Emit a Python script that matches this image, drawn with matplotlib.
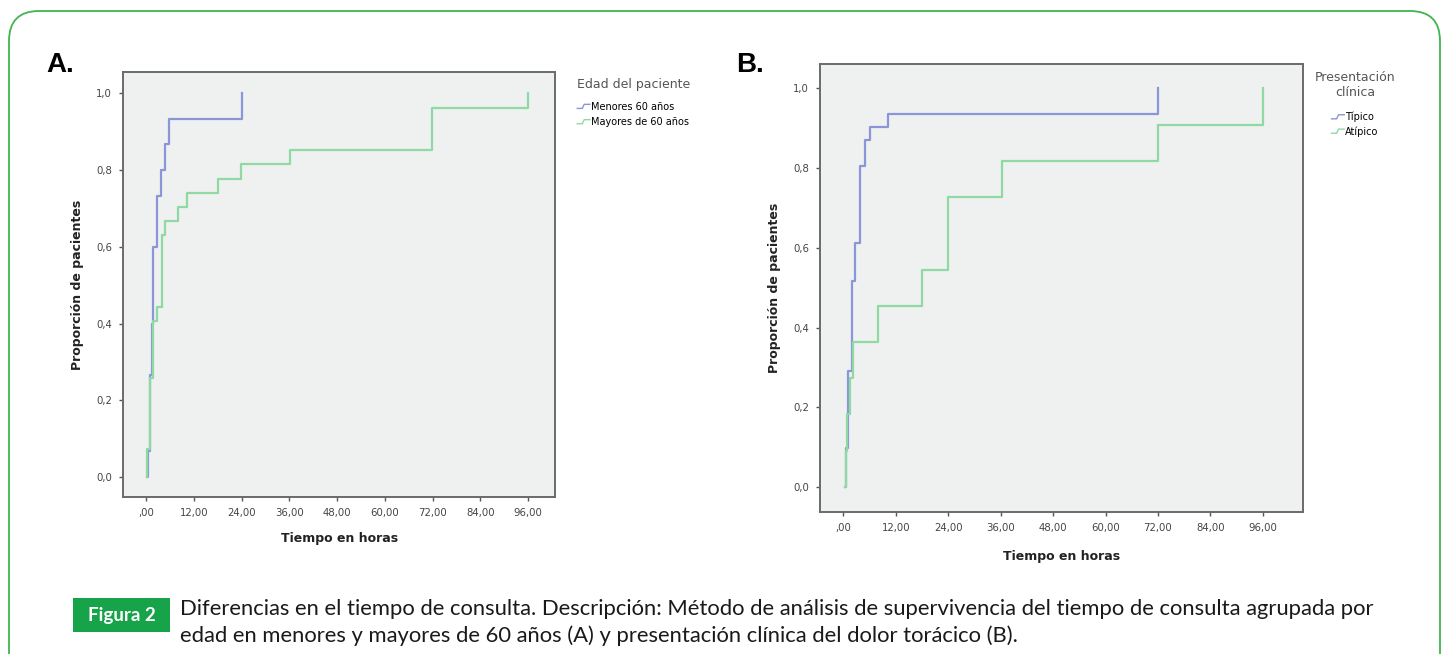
import matplotlib
matplotlib.use('Agg')
import matplotlib.pyplot as plt
from matplotlib.lines import Line2D
from matplotlib.legend_handler import HandlerBase
from matplotlib.patches import FancyBboxPatch, Rectangle

# panel A: edad del paciente (tiempo en horas, proporcion acumulada)
a_menores_t = [0.2, 0.6, 1.0, 1.4, 1.8, 2.7, 3.7, 4.8, 5.9, 24.0]
a_menores_p = [0.0, 0.067, 0.267, 0.40, 0.60, 0.733, 0.80, 0.867, 0.933, 1.0]
a_mayores_t = [0.2, 0.3, 1.0, 1.8, 2.7, 3.9, 4.8, 8.1, 10.2, 18.2, 23.8, 36.2, 71.8, 96.0]
a_mayores_p = [0.0, 0.074, 0.259, 0.407, 0.444, 0.630, 0.667, 0.704, 0.741, 0.778,
               0.815, 0.852, 0.963, 1.0]

# panel B: presentacion clinica
b_tipico_t = [0.4, 0.6, 1.1, 1.9, 2.7, 3.8, 5.0, 6.1, 10.3, 72.0]
b_tipico_p = [0.0, 0.097, 0.290, 0.516, 0.613, 0.806, 0.871, 0.903, 0.935, 1.0]
b_atipico_t = [0.4, 0.6, 0.9, 1.5, 2.3, 8.0, 17.9, 24.0, 36.2, 72.0, 96.0]
b_atipico_p = [0.0, 0.091, 0.182, 0.273, 0.364, 0.455, 0.545, 0.727, 0.818, 0.909, 1.0]

x_ticks = [0, 12, 24, 36, 48, 60, 72, 84, 96]
x_labels = [',00', '12,00', '24,00', '36,00', '48,00', '60,00', '72,00', '84,00', '96,00']
y_ticks = [0.0, 0.2, 0.4, 0.6, 0.8, 1.0]
y_labels = ['0,0', '0,2', '0,4', '0,6', '0,8', '1,0']

azul = '#8a96d8'
verde = '#8fd9a2'


class StepHandler(HandlerBase):
    # glifo escalonado como en la leyenda de SPSS
    def create_artists(self, legend, orig_handle, xdescent, ydescent,
                       width, height, fontsize, trans):
        x0, y0 = -xdescent, -ydescent
        xs = [x0, x0 + 0.4 * width, x0 + 0.55 * width, x0 + width]
        ys = [y0 + 0.2 * height, y0 + 0.2 * height, y0 + 0.8 * height, y0 + 0.8 * height]
        ln = Line2D(xs, ys, color=orig_handle.get_color(), lw=1.0)
        ln.set_transform(trans)
        return [ln]


def estilo(ax, xlim, ylim, xpad):
    ax.set_facecolor('#eff0f0')
    ax.set_xlim(*xlim)
    ax.set_ylim(*ylim)
    ax.set_xticks(x_ticks)
    ax.set_xticklabels(x_labels)
    ax.set_yticks(y_ticks)
    ax.set_yticklabels(y_labels)
    ax.tick_params(labelsize=7.3, labelcolor='#444444', color='#555555',
                   length=3, width=1, pad=5)
    for s in ax.spines.values():
        s.set_color('#6a6a6a')
        s.set_linewidth(1.4)
    ax.set_xlabel('Tiempo en horas', fontsize=9, fontweight='bold', color='#222222', labelpad=xpad)
    ax.set_ylabel('Proporción de pacientes', fontsize=9, fontweight='bold', color='#222222', labelpad=9)


fig = plt.figure(figsize=(14.49, 6.54), dpi=100)

# marco verde redondeado
bg = fig.add_axes([0, 0, 1, 1])
bg.set_xlim(0, 1449)
bg.set_ylim(654, 0)
bg.axis('off')
bg.add_patch(FancyBboxPatch((9, 11), 1431, 700, boxstyle='round,pad=0,rounding_size=30',
                            fc='none', ec='#3fb54f', lw=1.3))

# panel A
axA = fig.add_axes([0.0851, 0.240, 0.298, 0.650])
axA.step(a_menores_t, a_menores_p, where='post', color=azul, lw=1.6, label='Menores 60 años')
axA.step(a_mayores_t, a_mayores_p, where='post', color=verde, lw=1.6, label='Mayores de 60 años')
estilo(axA, (-5.7, 102.8), (-0.052, 1.056), 10)
legA = axA.legend(title='Edad del paciente', loc='upper left', bbox_to_anchor=(1.04, 0.998),
                  frameon=False, fontsize=7, title_fontsize=9, handlelength=1.3,
                  handletextpad=0.1, labelspacing=0.55, borderpad=0, alignment='left',
                  handler_map={Line2D: StepHandler()})
legA.get_title().set_color('#555555')
legA._legend_box.sep = 8

# panel B
axB = fig.add_axes([0.566, 0.217, 0.333, 0.685])
axB.step(b_tipico_t, b_tipico_p, where='post', color=azul, lw=1.6, label='Típico')
axB.step(b_atipico_t, b_atipico_p, where='post', color=verde, lw=1.6, label='Atípico')
estilo(axB, (-5.3, 105.1), (-0.063, 1.061), 12)
legB = axB.legend(title='Presentación\nclínica', loc='upper left', bbox_to_anchor=(1.015, 0.995),
                  frameon=False, fontsize=7, title_fontsize=9, handlelength=1.3,
                  handletextpad=0.1, labelspacing=0.4, borderpad=0, alignment='center',
                  handler_map={Line2D: StepHandler()})
legB.get_title().set_color('#555555')
legB.get_title().set_multialignment('center')
legB._legend_box.sep = 9

# letras de panel
fig.text(46 / 1449, 1 - 65 / 654, 'A.', fontsize=20, fontweight='bold',
         family='Liberation Sans', va='center', ha='left')
fig.text(736 / 1449, 1 - 65 / 654, 'B.', fontsize=20, fontweight='bold',
         family='Liberation Sans', va='center', ha='left')

# pie de figura
bg.add_patch(Rectangle((73, 598), 97, 34, fc='#17a34a', ec='none'))
bg.text(121.5, 615, 'Figura 2', color='white', fontsize=13.5, fontweight='bold',
        family='Lato', ha='center', va='center')
bg.text(180, 609, 'Diferencias en el tiempo de consulta. Descripción: Método de análisis de '
        'supervivencia del tiempo de consulta agrupada por', fontsize=15.8, family='Lato',
        ha='left', va='center', color='#1a1a1a')
bg.text(180, 636, 'edad en menores y mayores de 60 años (A) y presentación clínica del '
        'dolor torácico (B).', fontsize=15.8, family='Lato', ha='left', va='center',
        color='#1a1a1a')

fig.savefig('out.png', dpi=100)
